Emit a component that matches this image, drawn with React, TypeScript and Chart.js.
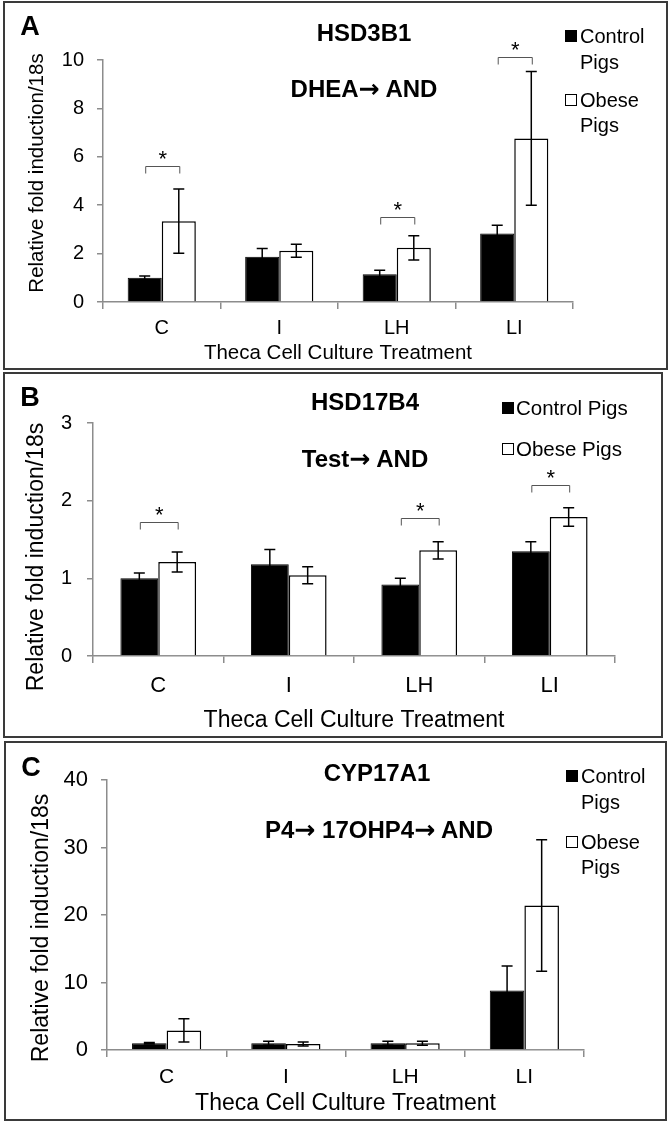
import React, { useEffect, useRef } from "react";
import { Chart, registerables } from "chart.js";

Chart.register(...registerables);

const categories = ["C", "I", "LH", "LI"];
const legendLabels = ["Control Pigs", "Obese Pigs"];
const yAxisTitle = "Relative fold induction/18s";
const xAxisTitle = "Theca Cell Culture Treatment";

// Panel A – HSD3B1
const hsd3b1Control = [1.0, 1.87, 1.15, 2.83];
const hsd3b1ControlErr = [0.07, 0.34, 0.16, 0.34];
const hsd3b1Obese = [3.34, 2.12, 2.24, 6.76];
const hsd3b1ObeseErr = [1.33, 0.27, 0.5, 2.76];
const hsd3b1Sig = [5.63, null, 3.5, 10.14];
const hsd3b1Ticks = [0, 2, 4, 6, 8, 10];

// Panel B – HSD17B4
const hsd17b4Control = [1.0, 1.18, 0.92, 1.35];
const hsd17b4ControlErr = [0.07, 0.19, 0.08, 0.12];
const hsd17b4Obese = [1.21, 1.04, 1.36, 1.79];
const hsd17b4ObeseErr = [0.13, 0.11, 0.11, 0.12];
const hsd17b4Sig = [1.73, null, 1.78, 2.2];
const hsd17b4Ticks = [0, 1, 2, 3];

// Panel C – CYP17A1
const cyp17a1Control = [1.0, 1.0, 1.0, 8.8];
const cyp17a1ControlErr = [0.1, 0.3, 0.3, 3.65];
const cyp17a1Obese = [2.9, 0.9, 1.0, 21.4];
const cyp17a1ObeseErr = [1.73, 0.3, 0.3, 9.73];
const cyp17a1Sig = [null, null, null, null];
const cyp17a1Ticks = [0, 10, 20, 30, 40];

const panelLetters = ["A", "B", "C"];
const panelTitles = ["HSD3B1", "HSD17B4", "CYP17A1"];
const pathwayLabels = ["DHEA\u2192 AND", "Test\u2192 AND", "P4\u2192 17OHP4\u2192 AND"];

const FONT = "'Liberation Sans', Arial, Helvetica, sans-serif";
const ARROW_FONT = "'DejaVu Sans', 'Liberation Sans', sans-serif";
const AXIS = "#8c8c8c";

const errSigPlugin = {
  id: "errSig",
  afterDatasetsDraw(chart: any, _args: any, opts: any) {
    const { ctx } = chart;
    const y = chart.scales.y;
    ctx.save();
    (opts.errors || []).forEach((errArr: number[], di: number) => {
      const meta = chart.getDatasetMeta(di);
      const data = chart.data.datasets[di].data as number[];
      meta.data.forEach((bar: any, i: number) => {
        const v = data[i];
        const e = errArr[i];
        const x = bar.x;
        const yt = y.getPixelForValue(v + e);
        const yb = y.getPixelForValue(Math.max(v - e, 0));
        ctx.strokeStyle = "#000";
        ctx.lineWidth = 1.5;
        ctx.beginPath();
        ctx.moveTo(x, yt);
        ctx.lineTo(x, yb);
        ctx.moveTo(x - 5.5, yt);
        ctx.lineTo(x + 5.5, yt);
        ctx.moveTo(x - 5.5, yb);
        ctx.lineTo(x + 5.5, yb);
        ctx.stroke();
      });
    });
    const m0 = chart.getDatasetMeta(0);
    const m1 = chart.getDatasetMeta(1);
    (opts.sig || []).forEach((s: number | null, i: number) => {
      if (s == null) return;
      const x0 = m0.data[i].x + 1;
      const x1 = m1.data[i].x + 1;
      const yy = Math.round(y.getPixelForValue(s)) + 0.5;
      ctx.strokeStyle = "#555";
      ctx.lineWidth = 1;
      ctx.beginPath();
      ctx.moveTo(x0, yy + 7);
      ctx.lineTo(x0, yy);
      ctx.lineTo(x1, yy);
      ctx.lineTo(x1, yy + 7);
      ctx.stroke();
      ctx.fillStyle = "#000";
      ctx.font = `22px ${FONT}`;
      ctx.textAlign = "center";
      ctx.textBaseline = "middle";
      ctx.fillText("*", (x0 + x1) / 2, yy - 7);
    });
    ctx.restore();
  },
};

type PanelProps = {
  top: number;
  height: number;
  area: { left: number; right: number; top: number; bottom: number };
  control: number[];
  controlErr: number[];
  obese: number[];
  obeseErr: number[];
  sig: (number | null)[];
  ticks: number[];
  xTickSize: number;
  yTickSize: number;
  xTitleSize: number;
  xTickPad: number;
  yTickPad: number;
  xTitlePad: number;
};

function BarPanel(p: PanelProps) {
  const ref = useRef<HTMLCanvasElement>(null);
  useEffect(() => {
    if (!ref.current) return;
    const chart = new Chart(ref.current, {
      type: "bar",
      data: {
        labels: categories,
        datasets: [
          {
            label: legendLabels[0],
            data: p.control,
            backgroundColor: "#000",
            borderColor: "#000",
            borderWidth: 1,
            categoryPercentage: 0.58,
            barPercentage: 1,
          },
          {
            label: legendLabels[1],
            data: p.obese,
            backgroundColor: "#fff",
            borderColor: "#000",
            borderWidth: 1.5,
            categoryPercentage: 0.58,
            barPercentage: 1,
          },
        ],
      },
      options: {
        responsive: false,
        animation: false,
        devicePixelRatio: 1,
        layout: {
          padding: { left: 0, top: p.area.top, right: 670 - p.area.right, bottom: 0 },
        },
        plugins: {
          legend: { display: false },
          tooltip: { enabled: false },
          errSig: { errors: [p.controlErr, p.obeseErr], sig: p.sig },
        } as any,
        scales: {
          x: {
            grid: {
              offset: true,
              drawOnChartArea: false,
              tickLength: 7,
              color: AXIS,
              lineWidth: 1.5,
            },
            border: { color: AXIS, width: 1.5 },
            ticks: {
              color: "#000",
              font: { family: FONT, size: p.xTickSize },
              padding: p.xTickPad,
            },
            title: {
              display: true,
              text: xAxisTitle,
              color: "#000",
              font: { family: FONT, size: p.xTitleSize },
              padding: { top: 0, bottom: p.xTitlePad },
            },
            afterFit: (s: any) => {
              s.height = p.height - p.area.bottom;
            },
          },
          y: {
            min: p.ticks[0],
            max: p.ticks[p.ticks.length - 1],
            ticks: {
              stepSize: p.ticks[1] - p.ticks[0],
              color: "#000",
              font: { family: FONT, size: p.yTickSize },
              padding: p.yTickPad,
            },
            grid: { drawOnChartArea: false, tickLength: 6, color: AXIS, lineWidth: 1.5 },
            border: { color: AXIS, width: 1.5 },
            afterFit: (s: any) => {
              s.width = p.area.left;
            },
          },
        },
      },
      plugins: [errSigPlugin],
    });
    return () => chart.destroy();
  }, []);
  return (
    <canvas
      ref={ref}
      width={670}
      height={p.height}
      style={{ position: "absolute", left: 0, top: p.top, width: 670, height: p.height }}
    />
  );
}

function renderWithArrows(text: string) {
  const parts = text.split("\u2192");
  const out: any[] = [];
  parts.forEach((part, i) => {
    out.push(<span key={"t" + i}>{part}</span>);
    if (i < parts.length - 1)
      out.push(
        <span key={"a" + i} style={{ fontFamily: ARROW_FONT, fontSize: "1.05em" }}>
          {"\u2192"}
        </span>
      );
  });
  return out;
}

function T(props: {
  x: number;
  y: number;
  text: string;
  size: number;
  bold?: boolean;
  align?: "center" | "left";
  rotate?: boolean;
  arrows?: boolean;
}) {
  const { x, y, text, size, bold, align = "center", rotate, arrows } = props;
  let transform = align === "center" ? "translate(-50%,-50%)" : "translate(0,-50%)";
  if (rotate) transform += " rotate(-90deg)";
  return (
    <div
      style={{
        position: "absolute",
        left: x,
        top: y,
        transform,
        whiteSpace: "nowrap",
        fontFamily: FONT,
        fontSize: size,
        fontWeight: bold ? "bold" : "normal",
        lineHeight: 1,
        color: "#000",
      }}
    >
      {arrows ? renderWithArrows(text) : text}
    </div>
  );
}

function Swatch(props: { x: number; y: number; filled: boolean }) {
  return (
    <div
      style={{
        position: "absolute",
        left: props.x,
        top: props.y,
        width: 12,
        height: 12,
        boxSizing: "border-box",
        background: props.filled ? "#000" : "#fff",
        border: "1px solid #000",
      }}
    />
  );
}

function Box(props: { l: number; t: number; r: number; b: number }) {
  return (
    <div
      style={{
        position: "absolute",
        left: props.l,
        top: props.t,
        width: props.r - props.l,
        height: props.b - props.t,
        boxSizing: "border-box",
        border: "2px solid #3a3a3a",
      }}
    />
  );
}

export default function App() {
  return (
    <div
      style={{
        position: "absolute",
        left: 0,
        top: 0,
        width: 670,
        height: 1123,
        background: "#fff",
        overflow: "hidden",
      }}
    >
      <Box l={3} t={1} r={668} b={370} />
      <Box l={3} t={372} r={663} b={738} />
      <Box l={4} t={741} r={667} b={1121} />

      <BarPanel
        top={0}
        height={370}
        area={{ left: 103, right: 573, top: 60, bottom: 302 }}
        control={hsd3b1Control}
        controlErr={hsd3b1ControlErr}
        obese={hsd3b1Obese}
        obeseErr={hsd3b1ObeseErr}
        sig={hsd3b1Sig}
        ticks={hsd3b1Ticks}
        xTickSize={20}
        yTickSize={20}
        xTitleSize={20.5}
        xTickPad={7}
        yTickPad={13}
        xTitlePad={4}
      />
      <BarPanel
        top={370}
        height={370}
        area={{ left: 93, right: 615, top: 53, bottom: 286 }}
        control={hsd17b4Control}
        controlErr={hsd17b4ControlErr}
        obese={hsd17b4Obese}
        obeseErr={hsd17b4ObeseErr}
        sig={hsd17b4Sig}
        ticks={hsd17b4Ticks}
        xTickSize={22}
        yTickSize={20}
        xTitleSize={23}
        xTickPad={10}
        yTickPad={15}
        xTitlePad={6}
      />
      <BarPanel
        top={740}
        height={383}
        area={{ left: 107, right: 584, top: 40, bottom: 310 }}
        control={cyp17a1Control}
        controlErr={cyp17a1ControlErr}
        obese={cyp17a1Obese}
        obeseErr={cyp17a1ObeseErr}
        sig={cyp17a1Sig}
        ticks={cyp17a1Ticks}
        xTickSize={21}
        yTickSize={22}
        xTitleSize={23}
        xTickPad={8}
        yTickPad={13}
        xTitlePad={6}
      />

      {/* Panel A */}
      <T x={30} y={26} text={panelLetters[0]} size={27} bold />
      <T x={364} y={33} text={panelTitles[0]} size={24} bold />
      <T x={364} y={89} text={pathwayLabels[0]} size={24} bold arrows />
      <T x={36} y={173} text={yAxisTitle} size={20.5} rotate />
      <Swatch x={565} y={30} filled />
      <T x={580} y={36} text="Control" size={20} align="left" />
      <T x={580} y={62} text="Pigs" size={20} align="left" />
      <Swatch x={565} y={94} filled={false} />
      <T x={580} y={100} text="Obese" size={20} align="left" />
      <T x={580} y={125} text="Pigs" size={20} align="left" />

      {/* Panel B */}
      <T x={30} y={397} text={panelLetters[1]} size={27} bold />
      <T x={365} y={402} text={panelTitles[1]} size={24} bold />
      <T x={365} y={459} text={pathwayLabels[1]} size={24} bold arrows />
      <T x={35} y={557} text={yAxisTitle} size={23} rotate />
      <Swatch x={502} y={402} filled />
      <T x={516} y={408} text={legendLabels[0]} size={20.5} align="left" />
      <Swatch x={502} y={443} filled={false} />
      <T x={516} y={449} text={legendLabels[1]} size={20.5} align="left" />

      {/* Panel C */}
      <T x={31} y={767} text={panelLetters[2]} size={27} bold />
      <T x={377} y={773} text={panelTitles[2]} size={24} bold />
      <T x={379} y={830} text={pathwayLabels[2]} size={24} bold arrows />
      <T x={40} y={928} text={yAxisTitle} size={23} rotate />
      <Swatch x={566} y={770} filled />
      <T x={581} y={776} text="Control" size={20} align="left" />
      <T x={581} y={802} text="Pigs" size={20} align="left" />
      <Swatch x={566} y={836} filled={false} />
      <T x={581} y={842} text="Obese" size={20} align="left" />
      <T x={581} y={867} text="Pigs" size={20} align="left" />
    </div>
  );
}
